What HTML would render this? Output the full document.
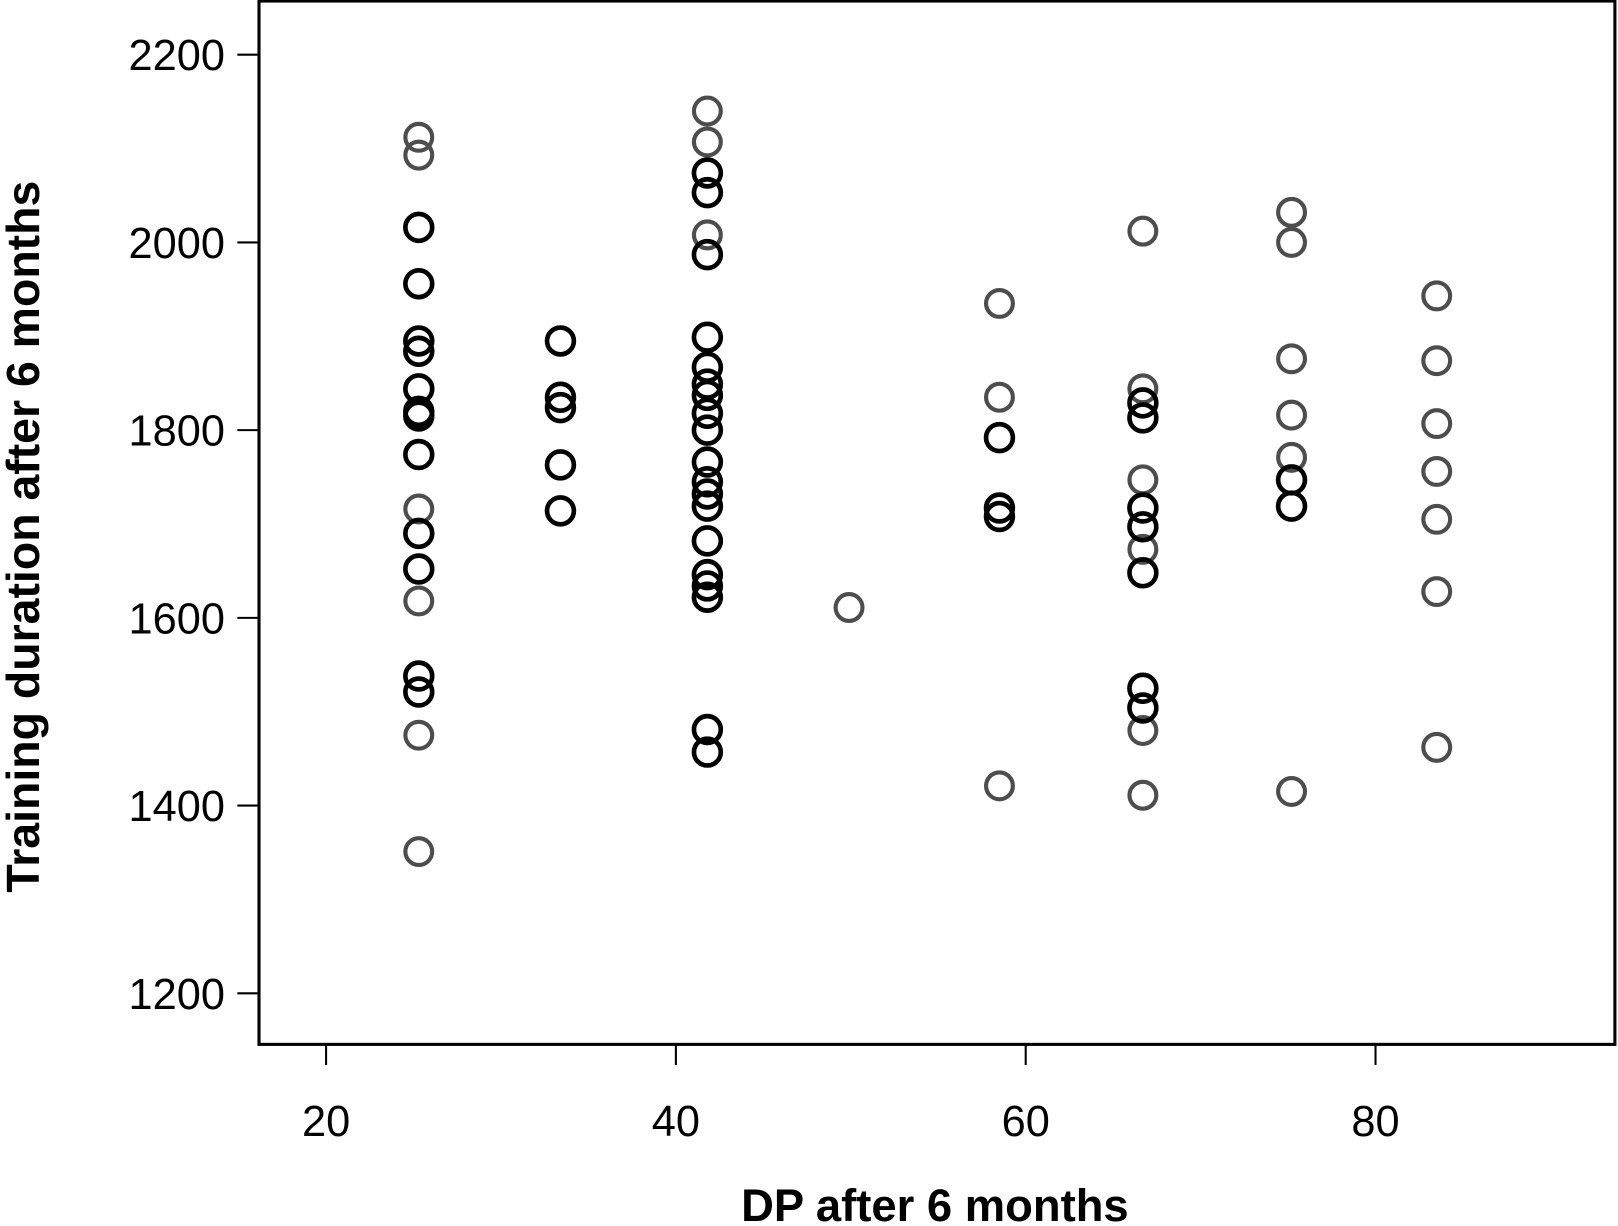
<!DOCTYPE html>
<html><head><meta charset="utf-8"><style>
html,body{margin:0;padding:0;background:#fff}
svg{display:block}
text{font-family:"Liberation Sans",sans-serif}
</style></head><body>
<svg id="chart" width="1618" height="1226" viewBox="0 0 1568 1188" preserveAspectRatio="none" xmlns="http://www.w3.org/2000/svg">
<rect x="251" y="1" width="1314" height="1011" fill="none" stroke="#000" stroke-width="3"/>
<g id="axes"></g>
<g id="points"></g>
<text x="906" y="1183" font-size="44" text-anchor="middle" font-weight="bold">DP after 6 months</text>
<text transform="translate(38,520) rotate(-90)" font-size="45" text-anchor="middle" font-weight="bold">Training duration after 6 months</text>
</svg>
<script>
const xTicks=[20,40,60,80];
const yTicks=[1200,1400,1600,1800,2000,2200];
const blackX=[
 25.3,25.3,25.3,25.3,25.3,25.3,25.3,25.3,25.3,25.3,25.3,25.3,
 33.4,33.4,33.4,33.4,33.4,
 41.8,41.8,41.8,41.8,41.8,41.8,41.8,41.8,41.8,41.8,
 41.8,41.8,41.8,41.8,41.8,41.8,41.8,41.8,41.8,
 58.5,58.5,58.5,
 66.7,66.7,66.7,66.7,66.7,66.7,66.7,
 75.2,75.2];
const blackY=[
 2016,1956,1895,1884,1844,1820,1815,1774,1690,1652,1538,1521,
 1895,1835,1824,1763,1714,
 2074,2053,1987,1899,1867,1849,1837,1818,1800,1766,
 1745,1732,1719,1682,1646,1634,1622,1481,1457,
 1792,1717,1708,
 1829,1813,1717,1697,1648,1525,1504,
 1747,1719];
const grayX=[25.3,25.3,25.3,25.3,25.3,25.3,
 41.8,41.8,41.8,
 49.9,
 58.5,58.5,58.5,
 66.7,66.7,66.7,66.7,66.7,66.7,
 75.2,75.2,75.2,75.2,75.2,75.2,
 83.5,83.5,83.5,83.5,83.5,83.5,83.5];
const grayY=[2112,2093,1716,1618,1475,1351,
 2140,2107,2008,
 1611,
 1935,1835,1421,
 2012,1844,1747,1673,1480,1411,
 2032,2000,1876,1816,1771,1415,
 1943,1874,1807,1756,1705,1628,1462];
const NS="http://www.w3.org/2000/svg";
function sx(v){return 316+(v-20)*16.95;}
function sy(v){return 53+(2200-v)*0.9095;}
const axes=document.getElementById('axes');
function mk(tag,attrs,parent){const e=document.createElementNS(NS,tag);for(const k in attrs)e.setAttribute(k,attrs[k]);parent.appendChild(e);return e;}
xTicks.forEach(t=>{
 const l=mk('line',{x1:sx(t),x2:sx(t),y1:1012,y2:1032,stroke:'#000','stroke-width':2},axes);
 
 
 const tx=mk('text',{x:sx(t),y:1101,'font-size':42,'text-anchor':'middle'},axes);
 tx.textContent=t;
 
 
});
yTicks.forEach(t=>{
 const l=mk('line',{x1:230,x2:251,y1:sy(t),y2:sy(t),stroke:'#000','stroke-width':2},axes);
 
 
 const tx=mk('text',{x:218,y:sy(t)+15,'font-size':42,'text-anchor':'end'},axes);
 tx.textContent=t;
 
 
});
const pts=document.getElementById('points');
grayX.forEach((x,i)=>{
 const c=mk('circle',{cx:sx(x),cy:sy(grayY[i]),r:13,fill:'none',stroke:'#4d4d4d','stroke-width':4},pts);
 
 
});
blackX.forEach((x,i)=>{
 const c=mk('circle',{cx:sx(x),cy:sy(blackY[i]),r:13,fill:'none',stroke:'#000','stroke-width':4.5},pts);
 
 
});
</script>
</body></html>
